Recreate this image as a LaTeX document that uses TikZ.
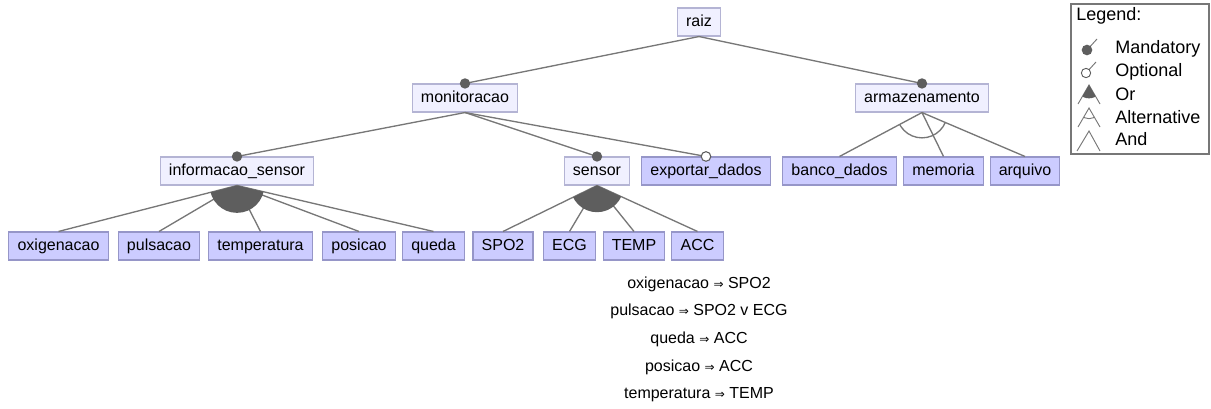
\documentclass[tikz,border=0pt]{standalone}
\usepackage{fontspec}
\setmainfont{Liberation Sans}
\newfontfamily\arrowfont{DejaVu Sans}
\newcommand{\impl}{{\arrowfont\fontsize{9}{9}\selectfont ⇒}}
\definecolor{absfill}{HTML}{F0F0FF}
\definecolor{absborder}{HTML}{B4B4D4}
\definecolor{leaffill}{HTML}{CCCCFF}
\definecolor{leafborder}{HTML}{9696C8}
\definecolor{linegray}{HTML}{777777}
\definecolor{dotgray}{HTML}{5E5E5E}

\begin{document}
\begin{tikzpicture}[x=0.75pt,y=-0.75pt,
  every node/.style={font=\fontsize{12}{14}\selectfont},
  feat/.style={draw=absborder,fill=absfill,line width=0.8pt,minimum height=21pt,
    inner xsep=6.5pt,inner ysep=0pt,text height=8.6pt,text depth=2.4pt},
  leaf/.style={feat,draw=leafborder,fill=leaffill},
  edge/.style={draw=linegray,line width=1pt},
  mand/.style={fill=dotgray},
  opt/.style={draw=dotgray,fill=white,line width=0.8pt},
  legtext/.style={anchor=west,font=\fontsize{13.5}{15}\selectfont,inner sep=0pt}]
  \useasboundingbox (0,0) rectangle (1211,408);
  % -=-=-=-=- FEATURES -=-=-=-=-
  \node[feat] (raiz) at (699,22) {raiz};
  \node[feat] (monitoracao) at (465,98) {monitoracao};
  \node[feat] (armazenamento) at (922,98) {armazenamento};
  \node[feat] (informacao) at (237,171) {informacao\_sensor};
  \node[feat] (sensor) at (597,171) {sensor};
  \node[leaf] (exportar) at (706,171) {exportar\_dados};
  \node[leaf] (banco) at (839.5,171) {banco\_dados};
  \node[leaf] (memoria) at (943.5,171) {memoria};
  \node[leaf] (arquivo) at (1025,171) {arquivo};
  \node[leaf] (oxigenacao) at (58.5,246) {oxigenacao};
  \node[leaf] (pulsacao) at (159,246) {pulsacao};
  \node[leaf] (temperatura) at (260.5,246) {temperatura};
  \node[leaf] (posicao) at (359,246) {posicao};
  \node[leaf] (queda) at (433.5,246) {queda};
  \node[leaf] (spo) at (503,246) {SPO2};
  \node[leaf] (ecg) at (569.5,246) {ECG};
  \node[leaf] (temp) at (634,246) {TEMP};
  \node[leaf] (acc) at (697.5,246) {ACC};
  % -=-=-=-=- EDGES -=-=-=-=-
  \draw[edge] (raiz.south) -- (monitoracao.north);
  \draw[edge] (raiz.south) -- (armazenamento.north);
  \draw[edge] (monitoracao.south) -- (informacao.north);
  \draw[edge] (monitoracao.south) -- (sensor.north);
  \draw[edge] (monitoracao.south) -- (exportar.north);
  \foreach \c in {oxigenacao,pulsacao,temperatura,posicao,queda}
    \draw[edge] (informacao.south) -- (\c.north);
  \foreach \c in {spo,ecg,temp,acc}
    \draw[edge] (sensor.south) -- (\c.north);
  \foreach \c in {banco,memoria,arquivo}
    \draw[edge] (armazenamento.south) -- (\c.north);
  % or groups
  \begin{scope}
    \clip (informacao.south) -- (oxigenacao.north) -- (queda.north) -- cycle;
    \fill[dotgray] (informacao.south) circle (20.5pt);
  \end{scope}
  \begin{scope}
    \clip (sensor.south) -- (spo.north) -- (acc.north) -- cycle;
    \fill[dotgray] (sensor.south) circle (20pt);
  \end{scope}
  % alternative group
  \begin{scope}
    \clip (armazenamento.south) -- (banco.north) -- (arquivo.north) -- cycle;
    \draw[edge] (armazenamento.south) circle (19pt);
  \end{scope}
  % mandatory / optional marks
  \foreach \c in {monitoracao,armazenamento,informacao,sensor}
    \fill[mand] (\c.north) circle (3.9pt);
  \filldraw[opt] (exportar.north) circle (3.6pt);
  % -=-=-=-=- CONSTRAINTS -=-=-=-=-
  \node (c1) at (699,284) {oxigenacao \impl{} SPO2};
  \node (c2) at (699,311) {pulsacao \impl{} SPO2 v ECG};
  \node (c3) at (699,339) {queda \impl{} ACC};
  \node (c4) at (699,367) {posicao \impl{} ACC};
  \node (c5) at (699,395) {temperatura \impl{} TEMP};
  % -=-=-=-=- LEGEND -=-=-=-=-
  \draw[linegray,line width=0.9pt] (1071,4) rectangle (1209,154);
  \node[legtext] (legend) at (1076,16) {Legend:};
  \node[legtext] (lmand) at (1115,49) {Mandatory};
  \node[legtext] (lopt) at (1115,72) {Optional};
  \node[legtext] (lor) at (1115,94) {Or};
  \node[legtext] (lalt) at (1115,117) {Alternative};
  \node[legtext] (land) at (1115,139) {And};
  \draw[edge,line width=0.7pt] (1087,50) -- (1097,39);
  \fill[mand] (1087,50) circle (4pt);
  \draw[edge,line width=0.7pt] (1086,73) -- (1096,62);
  \filldraw[opt,line width=0.7pt] (1086,73) circle (3.5pt);
  \draw[edge,line width=0.7pt] (1078,104) -- (1089,85) -- (1100,104);
  \begin{scope}
    \clip (1078,104) -- (1089,85) -- (1100,104) -- cycle;
    \fill[dotgray] (1089,85) circle (10pt);
  \end{scope}
  \draw[edge,line width=0.7pt] (1078,127) -- (1089,108) -- (1100,127);
  \begin{scope}
    \clip (1078,127) -- (1089,108) -- (1100,127) -- cycle;
    \draw[edge,line width=0.7pt] (1089,108) circle (8pt);
  \end{scope}
  \draw[edge,line width=0.7pt] (1077,151) -- (1089,131) -- (1100,151);
\end{tikzpicture}
\end{document}
